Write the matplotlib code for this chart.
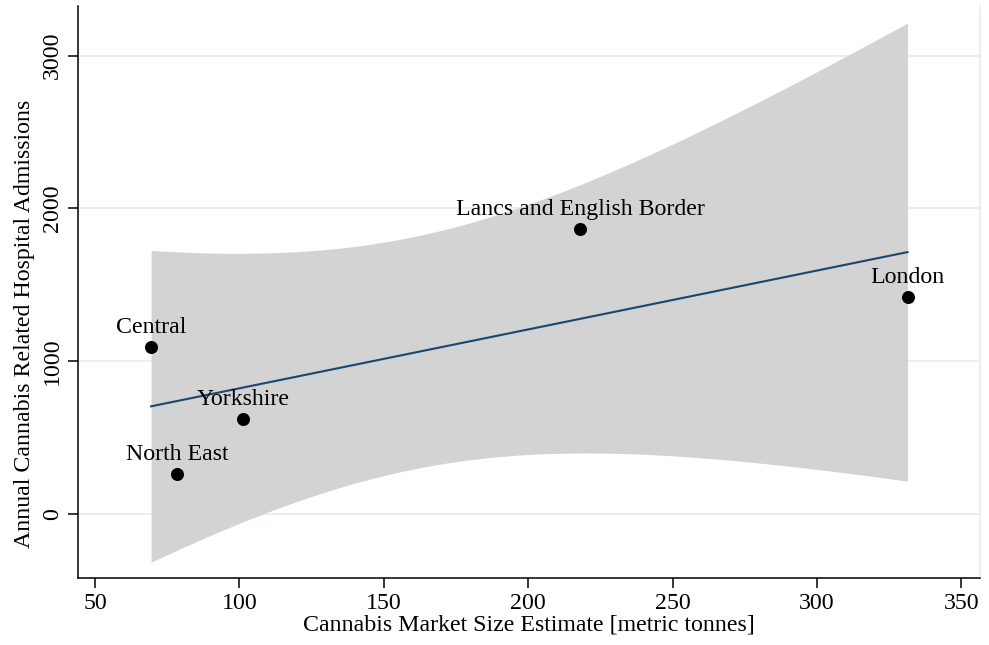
import numpy as np
import matplotlib
matplotlib.use("Agg")
import matplotlib.pyplot as plt

plt.rcParams["font.family"] = ["Liberation Serif", "DejaVu Serif"]

regions = ["Central", "North East", "Yorkshire", "Lancs and English Border", "London"]
market_size = np.array([69.4, 78.5, 101.4, 218.0, 331.4])
admissions = np.array([1096, 262, 621, 1866, 1423])

x_ticks = [50, 100, 150, 200, 250, 300, 350]
y_ticks = [0, 1000, 2000, 3000]
t_crit = 3.182446  # t(0.975, df=3)

# linear fit with 95% confidence band for the mean
n = len(market_size)
slope, intercept = np.polyfit(market_size, admissions, 1)
resid = admissions - (intercept + slope * market_size)
s = np.sqrt(np.sum(resid ** 2) / (n - 2))
xbar = market_size.mean()
sxx = np.sum((market_size - xbar) ** 2)
xs = np.linspace(market_size.min(), market_size.max(), 200)
fit = intercept + slope * xs
half = t_crit * s * np.sqrt(1 / n + (xs - xbar) ** 2 / sxx)

fs = 17.2

fig = plt.figure(figsize=(9.89, 6.45), dpi=100)
ax = fig.add_axes([0.0789, 0.1039, 0.912, 0.887])

grid_col = "#e6eff1"
for yt in y_ticks:
    ax.axhline(yt, color=grid_col, lw=1.4, zorder=0)

ax.fill_between(xs, fit - half, fit + half, color="#d3d3d3", lw=0, zorder=1)
ax.plot(xs, fit, color="#1a476f", lw=1.5, zorder=2)
ax.scatter(market_size, admissions, s=88, color="black", zorder=3, lw=0)
for name, x, y in zip(regions, market_size, admissions):
    ax.annotate(name, (x, y), xytext=(0, 6.5), textcoords="offset points",
                ha="center", va="bottom", fontsize=fs, zorder=4)

ax.set_xlim(44.1, 356.5)
ax.set_ylim(-417, 3325)
ax.set_xticks(x_ticks)
ax.set_yticks(y_ticks)
ax.set_yticklabels([str(v) for v in y_ticks], rotation=90, va="center")
ax.tick_params(axis="both", direction="out", length=7, width=1.1,
               labelsize=fs, pad=4)

ax.spines["top"].set_visible(False)
ax.spines["right"].set_color(grid_col)
ax.spines["right"].set_linewidth(1.4)
ax.spines["left"].set_linewidth(1.1)
ax.spines["bottom"].set_linewidth(1.1)

ax.set_xlabel("Cannabis Market Size Estimate [metric tonnes]", fontsize=fs, labelpad=0)
ax.set_ylabel("Annual Cannabis Related Hospital Admissions", fontsize=fs,
              labelpad=5, y=0.444)

fig.savefig("out.png", dpi=100)
